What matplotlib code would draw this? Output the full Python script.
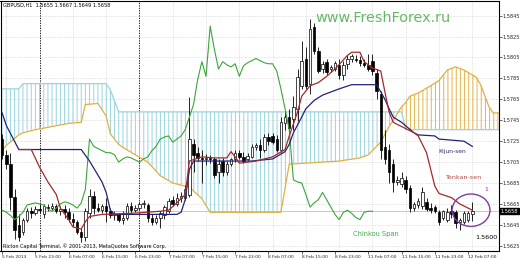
import numpy as np
import matplotlib
matplotlib.use("Agg")
import matplotlib.pyplot as plt
from matplotlib.patches import Ellipse

plt.rcParams['hatch.linewidth'] = 0.7
plt.rcParams['font.family'] = ['DejaVu Sans']

# GBPUSD H1, 5 Feb 15:00 .. 12 Feb 08:00 (one entry per bar)
bar_open = [
    1.5727, 1.5712, 1.5703, 1.5672, 1.5645, 1.5638, 1.5650, 1.5658, 1.5656, 1.5660,
    1.5655, 1.5662, 1.5661, 1.5663, 1.5658, 1.5660, 1.5657, 1.5651, 1.5648, 1.5638,
    1.5633, 1.5656, 1.5673, 1.5661, 1.5659, 1.5663, 1.5658, 1.5654, 1.5655, 1.5650,
    1.5652, 1.5663, 1.5659, 1.5661, 1.5665, 1.5664, 1.5652, 1.5648, 1.5652, 1.5654,
    1.5658, 1.5669, 1.5665, 1.5671, 1.5671, 1.5674, 1.5722, 1.5714, 1.5709, 1.5708,
    1.5709, 1.5708, 1.5696, 1.5706, 1.5696, 1.5703, 1.5708, 1.5714, 1.5710, 1.5708,
    1.5710, 1.5719, 1.5721, 1.5717, 1.5729, 1.5730, 1.5727, 1.5717, 1.5742, 1.5748,
    1.5746, 1.5756, 1.5778, 1.5804, 1.5780, 1.5834, 1.5811, 1.5794, 1.5801, 1.5794,
    1.5794, 1.5798, 1.5788, 1.5799, 1.5804, 1.5804, 1.5803, 1.5800, 1.5798, 1.5802,
    1.5790, 1.5770, 1.5719, 1.5717, 1.5703, 1.5686, 1.5684, 1.5688, 1.5680, 1.5661,
    1.5664, 1.5663, 1.5667, 1.5661, 1.5662, 1.5657, 1.5652, 1.5650, 1.5658, 1.5657,
    1.5648, 1.5648, 1.5650, 1.5655]
bar_high = [
    1.5732, 1.5717, 1.5714, 1.5679, 1.5655, 1.5652, 1.5661, 1.5662, 1.5663, 1.5666,
    1.5665, 1.5665, 1.5666, 1.5665, 1.5663, 1.5664, 1.5661, 1.5656, 1.5650, 1.5642,
    1.5661, 1.5679, 1.5677, 1.5666, 1.5665, 1.5671, 1.5661, 1.5658, 1.5656, 1.5658,
    1.5666, 1.5667, 1.5664, 1.5667, 1.5669, 1.5666, 1.5655, 1.5654, 1.5658, 1.5664,
    1.5671, 1.5673, 1.5675, 1.5676, 1.5683, 1.5767, 1.5727, 1.5719, 1.5717, 1.5713,
    1.5712, 1.5710, 1.5708, 1.5709, 1.5706, 1.5709, 1.5717, 1.5717, 1.5715, 1.5714,
    1.5722, 1.5723, 1.5727, 1.5732, 1.5733, 1.5733, 1.5731, 1.5748, 1.5754, 1.5756,
    1.5768, 1.5794, 1.5821, 1.5815, 1.5842, 1.5838, 1.5815, 1.5802, 1.5804, 1.5798,
    1.5802, 1.5804, 1.5802, 1.5807, 1.5808, 1.5807, 1.5806, 1.5804, 1.5808, 1.5808,
    1.5794, 1.5773, 1.5736, 1.5722, 1.5708, 1.5692, 1.5696, 1.5692, 1.5683, 1.5667,
    1.5671, 1.5681, 1.5671, 1.5666, 1.5664, 1.5659, 1.5659, 1.5661, 1.5664, 1.5659,
    1.5652, 1.5658, 1.5658, 1.5667]
bar_low = [
    1.5708, 1.5698, 1.5659, 1.5631, 1.5630, 1.5635, 1.5648, 1.5652, 1.5654, 1.5656,
    1.5652, 1.5658, 1.5659, 1.5656, 1.5654, 1.5652, 1.5648, 1.5644, 1.5636, 1.5629,
    1.5630, 1.5652, 1.5655, 1.5657, 1.5656, 1.5648, 1.5652, 1.5650, 1.5648, 1.5646,
    1.5650, 1.5656, 1.5657, 1.5659, 1.5661, 1.5648, 1.5645, 1.5646, 1.5642, 1.5651,
    1.5656, 1.5663, 1.5663, 1.5667, 1.5669, 1.5672, 1.5696, 1.5706, 1.5685, 1.5702,
    1.5704, 1.5690, 1.5685, 1.5692, 1.5693, 1.5701, 1.5705, 1.5708, 1.5704, 1.5706,
    1.5709, 1.5717, 1.5709, 1.5715, 1.5721, 1.5722, 1.5715, 1.5715, 1.5736, 1.5733,
    1.5736, 1.5744, 1.5775, 1.5775, 1.5770, 1.5808, 1.5790, 1.5790, 1.5788, 1.5791,
    1.5792, 1.5784, 1.5783, 1.5794, 1.5801, 1.5801, 1.5797, 1.5796, 1.5792, 1.5788,
    1.5765, 1.5708, 1.5703, 1.5685, 1.5676, 1.5683, 1.5681, 1.5675, 1.5657, 1.5658,
    1.5661, 1.5660, 1.5658, 1.5656, 1.5656, 1.5645, 1.5650, 1.5648, 1.5652, 1.5642,
    1.5640, 1.5646, 1.5648, 1.5649]
bar_close = [
    1.5712, 1.5703, 1.5672, 1.5640, 1.5633, 1.5650, 1.5658, 1.5656, 1.5660, 1.5659,
    1.5663, 1.5661, 1.5663, 1.5658, 1.5660, 1.5657, 1.5651, 1.5648, 1.5638, 1.5633,
    1.5658, 1.5673, 1.5661, 1.5659, 1.5663, 1.5658, 1.5654, 1.5655, 1.5650, 1.5652,
    1.5663, 1.5659, 1.5661, 1.5665, 1.5666, 1.5652, 1.5648, 1.5652, 1.5656, 1.5662,
    1.5668, 1.5665, 1.5671, 1.5673, 1.5679, 1.5727, 1.5712, 1.5709, 1.5708, 1.5709,
    1.5708, 1.5693, 1.5703, 1.5696, 1.5703, 1.5708, 1.5714, 1.5710, 1.5706, 1.5711,
    1.5719, 1.5721, 1.5717, 1.5729, 1.5725, 1.5724, 1.5717, 1.5743, 1.5748, 1.5738,
    1.5758, 1.5786, 1.5802, 1.5778, 1.5832, 1.5811, 1.5792, 1.5799, 1.5791, 1.5796,
    1.5800, 1.5788, 1.5798, 1.5804, 1.5806, 1.5803, 1.5800, 1.5798, 1.5794, 1.5792,
    1.5773, 1.5717, 1.5708, 1.5696, 1.5686, 1.5688, 1.5690, 1.5679, 1.5661, 1.5665,
    1.5668, 1.5676, 1.5660, 1.5659, 1.5658, 1.5648, 1.5658, 1.5657, 1.5655, 1.5647,
    1.5650, 1.5656, 1.5656, 1.5658]

# Ichimoku lines (bar index, price)
tenkan_bar = [4, 7, 9, 11, 13, 14, 16, 17, 19, 20, 21, 24, 31, 38, 40, 42, 44, 45, 48, 51,
              54, 55, 56, 57, 61, 65, 68, 69, 71, 72, 74, 76, 78, 80, 83, 84, 86, 87, 89, 91,
              92, 93, 94, 96, 99, 100, 102, 103, 104, 105, 108, 110, 113]
tenkan_val = [1.5717, 1.5717, 1.5700, 1.5686, 1.5674, 1.5661, 1.5650, 1.5643, 1.5641, 1.5648,
              1.5653, 1.5655, 1.5656, 1.5658, 1.5659, 1.5666, 1.5674, 1.5706, 1.5710, 1.5709,
              1.5709, 1.5715, 1.5710, 1.5704, 1.5706, 1.5710, 1.5717, 1.5730, 1.5753, 1.5768,
              1.5778, 1.5781, 1.5787, 1.5794, 1.5807, 1.5810, 1.5810, 1.5801, 1.5795, 1.5792,
              1.5772, 1.5753, 1.5743, 1.5739, 1.5733, 1.5730, 1.5714, 1.5698, 1.5682, 1.5675,
              1.5671, 1.5665, 1.5659]

kijun_bar = [0, 1, 4, 19, 21, 24, 25, 26, 27, 42, 43, 44, 45, 46, 60, 65, 68, 69, 70, 72,
             73, 75, 77, 79, 81, 84, 90, 92, 93, 94, 96, 99, 100, 104, 105, 111, 113]
kijun_val = [1.5752, 1.5740, 1.5717, 1.5717, 1.5706, 1.5686, 1.5676, 1.5659, 1.5655, 1.5655,
             1.5657, 1.5669, 1.5698, 1.5706, 1.5706, 1.5708, 1.5715, 1.5722, 1.5733, 1.5748,
             1.5756, 1.5764, 1.5769, 1.5772, 1.5775, 1.5779, 1.5779, 1.5765, 1.5756, 1.5748,
             1.5743, 1.5733, 1.5731, 1.5730, 1.5727, 1.5725, 1.5720]

chikou_val = [
    1.5659, 1.5657, 1.5654, 1.5650, 1.5653, 1.5657, 1.5664, 1.5665, 1.5666, 1.5665,
    1.5664, 1.5660, 1.5658, 1.5661, 1.5665, 1.5667, 1.5666, 1.5664, 1.5661, 1.5666,
    1.5679, 1.5727, 1.5720, 1.5718, 1.5716, 1.5714, 1.5714, 1.5712, 1.5705, 1.5708,
    1.5710, 1.5709, 1.5707, 1.5705, 1.5708, 1.5710, 1.5716, 1.5720, 1.5727, 1.5729,
    1.5730, 1.5724, 1.5727, 1.5730, 1.5736, 1.5748, 1.5760, 1.5784, 1.5801, 1.5787,
    1.5835, 1.5813, 1.5794, 1.5801, 1.5798, 1.5796, 1.5799, 1.5787, 1.5797, 1.5800,
    1.5802, 1.5804, 1.5802, 1.5800, 1.5799, 1.5799, 1.5792, 1.5775, 1.5756, 1.5736,
    1.5688, 1.5686, 1.5685, 1.5674, 1.5662, 1.5666, 1.5669, 1.5676, 1.5669, 1.5662,
    1.5655, 1.5650, 1.5657, 1.5659, 1.5656, 1.5652, 1.5650, 1.5657, 1.5658, 1.5658]

cloud_bar = [0, 1, 4, 5, 8, 12, 16, 19, 20, 23, 25, 26, 28, 29,
             35, 38, 41, 45, 48, 50, 56, 62, 67, 69, 81, 86, 88, 91, 93, 94, 96,
             97, 98, 100, 103, 105, 107, 109, 111, 114, 115, 117, 118, 120]
senkou_a = [1.5716, 1.5721, 1.5731, 1.5733, 1.5736, 1.5739, 1.5742, 1.5743, 1.5760, 1.5761,
            1.5749, 1.5732, 1.5722, 1.5719,
            1.5705, 1.5692, 1.5685, 1.5681, 1.5670, 1.5657, 1.5657, 1.5657, 1.5657, 1.5703,
            1.5706, 1.5709, 1.5712, 1.5724, 1.5739, 1.5745, 1.5758,
            1.5762, 1.5768, 1.5771, 1.5778, 1.5783, 1.5793, 1.5796, 1.5793, 1.5786, 1.5779,
            1.5758, 1.5752, 1.5752]
senkou_b = [1.5775, 1.5775, 1.5775, 1.5780, 1.5780, 1.5780, 1.5780, 1.5780, 1.5780, 1.5780,
            1.5780, 1.5774, 1.5753, 1.5753,
            1.5753, 1.5753, 1.5753, 1.5753, 1.5753, 1.5753, 1.5753, 1.5753, 1.5753, 1.5753,
            1.5753, 1.5753, 1.5753, 1.5753, 1.5753, 1.5753, 1.5753,
            1.5736, 1.5736, 1.5736, 1.5736, 1.5736, 1.5736, 1.5736, 1.5736, 1.5736, 1.5736,
            1.5736, 1.5736, 1.5736]

price_ticks = [1.5845, 1.5825, 1.5805, 1.5785, 1.5765, 1.5745, 1.5725, 1.5705,
               1.5685, 1.5665, 1.5645, 1.5625]
time_labels = ["5 Feb 2013", "5 Feb 23:00", "6 Feb 07:00", "6 Feb 15:00", "6 Feb 23:00",
               "7 Feb 07:00", "7 Feb 15:00", "7 Feb 23:00", "8 Feb 07:00", "8 Feb 15:00",
               "8 Feb 23:00", "11 Feb 07:00", "11 Feb 15:00", "11 Feb 23:00", "12 Feb 07:00"]
last_price = 1.5658

fig = plt.figure(figsize=(5.2, 2.6), dpi=100)
ax = fig.add_axes([0.5 / 520, 1 - 251 / 260, 498 / 520, 250 / 260])
ax.set_xlim(-0.4, 119.3)
ax.set_ylim(1.5620, 1.5859)

# grid and day separators
for b in range(1, 120, 8):
    ax.axvline(b, color='#c8c8c8', lw=0.5, ls=(0, (1, 1.5)), zorder=0)
for p in price_ticks:
    ax.axhline(p, color='#c8c8c8', lw=0.5, ls=(0, (1, 1.5)), zorder=0)
for b in [9, 33]:
    ax.axvline(b, color='black', lw=0.6, ls=(0, (1.5, 1.5)), zorder=1)

# kumo
cx = np.array(cloud_bar)
sa = np.array(senkou_a)
sb = np.array(senkou_b)
ax.fill_between(cx, sa, sb, where=sa >= sb, interpolate=True, facecolor='none',
                edgecolor='#e3b448', hatch='||||', lw=0, zorder=1)
ax.fill_between(cx, sa, sb, where=sa < sb, interpolate=True, facecolor='none',
                edgecolor='#98d4de', hatch='||||', lw=0, zorder=1)
ax.plot(cx, sb, color='#98d4de', lw=0.9, zorder=2)
ax.plot(cx, sa, color='#e0b040', lw=0.9, zorder=2)

# candles
x = np.arange(len(bar_close))
o = np.array(bar_open)
c = np.array(bar_close)
up = c >= o
ax.vlines(x, bar_low, bar_high, color='black', lw=0.6, zorder=3)
ax.bar(x[up], (c - o)[up], bottom=o[up], width=0.6, color='white',
       edgecolor='black', lw=0.5, zorder=4)
ax.bar(x[~up], (o - c)[~up], bottom=c[~up], width=0.6, color='black',
       edgecolor='black', lw=0.5, zorder=4)

# ichimoku lines
ax.plot(np.arange(len(chikou_val)), chikou_val, color='#3aa53a', lw=0.8, zorder=5)
ax.plot(kijun_bar, kijun_val, color='#22227a', lw=0.9, zorder=5)
ax.plot(tenkan_bar, tenkan_val, color='#a52a2a', lw=0.9, zorder=6)

ax.axhline(last_price, color='#b0b0b0', lw=0.5, zorder=2)

# axes styling
for s in ax.spines.values():
    s.set_color('black')
    s.set_linewidth(0.8)
ax.yaxis.tick_right()
ax.set_yticks(price_ticks)
ax.set_yticklabels([f"{p:.4f}" for p in price_ticks])
ax.set_xticks(np.arange(0, 113, 8))
ax.set_xticklabels(time_labels, ha='left')
ax.tick_params(axis='both', labelsize=3.6, length=2, width=0.5, pad=1, colors='#222222')
ax.tick_params(axis='x', labelsize=3.2)

ax.text(1.004, last_price, f"{last_price:.4f}", transform=ax.get_yaxis_transform(),
        fontsize=3.6, color='white', va='center', ha='left', zorder=10,
        bbox=dict(facecolor='black', edgecolor='black', pad=0.4), clip_on=False)

# annotations
ax.text(0.006, 0.992, "GBPUSD,H1  1.5655 1.5667 1.5649 1.5658", transform=ax.transAxes,
        fontsize=3.6, va='top', ha='left')
ax.text(0.006, 0.008, "Ricton Capital Terminal, \u00a9 2001-2013, MetaQuotes Software Corp.",
        transform=ax.transAxes, fontsize=3.5, va='bottom', ha='left')
fig.text(383 / 520, 1 - 18 / 260, "www.FreshForex.ru", color='#66b966', fontsize=10.4,
         ha='center', va='center')
ax.text(104.8, 1.5715, "Kijun-sen", color='#2a2a7a', fontsize=4.3, va='center', ha='left')
ax.text(106.4, 1.5690, "Tenkan-sen", color='#b04848', fontsize=4.6, va='center', ha='left')
ax.text(84.3, 1.5636, "Chinkou Span", color='#45a845', fontsize=4.8, va='center', ha='left')
ax.text(113.7, 1.5633, "1.5600", color='black', fontsize=4.6, va='center', ha='left')
ax.text(116.3, 1.5679, "1", color='#7b3f9e', fontsize=4.5, va='center', ha='center')
ax.add_patch(Ellipse((112.7, 1.5659), 9.1, 0.0031, facecolor='none',
                     edgecolor='#7b3f9e', lw=1.0, zorder=8))

fig.savefig("out.png", dpi=100)
